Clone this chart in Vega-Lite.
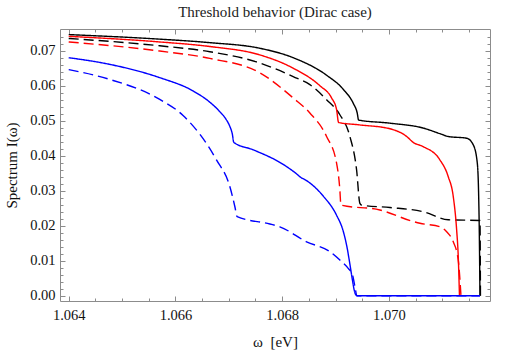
{
  "$schema": "https://vega.github.io/schema/vega-lite/v6.json",
  "width": 430,
  "height": 272,
  "autosize": "none",
  "padding": {"left": 60, "top": 29, "right": 28, "bottom": 53},
  "background": "white",
  "title": {"text": "Threshold behavior (Dirac case)", "fontSize": 15, "font": "Liberation Serif", "fontWeight": "normal", "color": "#222222", "offset": 9},
  "config": {
    "view": {"stroke": "#8c8c8c", "strokeWidth": 1},
    "axis": {"labelFont": "Liberation Serif", "titleFont": "Liberation Serif", "labelFontSize": 14.5, "titleFontSize": 15, "labelColor": "#111111", "titleColor": "#111111", "titleFontWeight": "normal", "tickColor": "#8c8c8c", "domain": false, "grid": false}
  },
  "data": {"values": [
    {"x": 1.064000, "y": 0.0746, "c": "black", "s": "solid"},
    {"x": 1.065706, "y": 0.0733, "c": "black", "s": "solid"},
    {"x": 1.066644, "y": 0.0723, "c": "black", "s": "solid"},
    {"x": 1.067581, "y": 0.0707, "c": "black", "s": "solid"},
    {"x": 1.068206, "y": 0.0680, "c": "black", "s": "solid"},
    {"x": 1.068832, "y": 0.0630, "c": "black", "s": "solid"},
    {"x": 1.069143, "y": 0.0590, "c": "black", "s": "solid"},
    {"x": 1.069331, "y": 0.0550, "c": "black", "s": "solid"},
    {"x": 1.069406, "y": 0.0522, "c": "black", "s": "solid"},
    {"x": 1.069432, "y": 0.0502, "c": "black", "s": "solid"},
    {"x": 1.070019, "y": 0.0493, "c": "black", "s": "solid"},
    {"x": 1.070643, "y": 0.0479, "c": "black", "s": "solid"},
    {"x": 1.070956, "y": 0.0463, "c": "black", "s": "solid"},
    {"x": 1.071112, "y": 0.0455, "c": "black", "s": "solid"},
    {"x": 1.071457, "y": 0.0450, "c": "black", "s": "solid"},
    {"x": 1.071581, "y": 0.0431, "c": "black", "s": "solid"},
    {"x": 1.071656, "y": 0.0379, "c": "black", "s": "solid"},
    {"x": 1.071682, "y": 0.0283, "c": "black", "s": "solid"},
    {"x": 1.071693, "y": 0.0188, "c": "black", "s": "solid"},
    {"x": 1.071706, "y": 0.0000, "c": "black", "s": "solid"},

    {"x": 1.064000, "y": 0.0735, "c": "black", "s": "dashed"},
    {"x": 1.065706, "y": 0.0714, "c": "black", "s": "dashed"},
    {"x": 1.066644, "y": 0.0697, "c": "black", "s": "dashed"},
    {"x": 1.067581, "y": 0.0665, "c": "black", "s": "dashed"},
    {"x": 1.068206, "y": 0.0626, "c": "black", "s": "dashed"},
    {"x": 1.068519, "y": 0.0603, "c": "black", "s": "dashed"},
    {"x": 1.068832, "y": 0.0560, "c": "black", "s": "dashed"},
    {"x": 1.069081, "y": 0.0517, "c": "black", "s": "dashed"},
    {"x": 1.069269, "y": 0.0455, "c": "black", "s": "dashed"},
    {"x": 1.069394, "y": 0.0360, "c": "black", "s": "dashed"},
    {"x": 1.069456, "y": 0.0264, "c": "black", "s": "dashed"},
    {"x": 1.069488, "y": 0.0259, "c": "black", "s": "dashed"},
    {"x": 1.070019, "y": 0.0252, "c": "black", "s": "dashed"},
    {"x": 1.070643, "y": 0.0240, "c": "black", "s": "dashed"},
    {"x": 1.071112, "y": 0.0217, "c": "black", "s": "dashed"},
    {"x": 1.071706, "y": 0.0215, "c": "black", "s": "dashed"},
    {"x": 1.071715, "y": 0.0000, "c": "black", "s": "dashed"},

    {"x": 1.064000, "y": 0.0741, "c": "red", "s": "solid"},
    {"x": 1.065706, "y": 0.0725, "c": "red", "s": "solid"},
    {"x": 1.066644, "y": 0.0712, "c": "red", "s": "solid"},
    {"x": 1.067581, "y": 0.0688, "c": "red", "s": "solid"},
    {"x": 1.068206, "y": 0.0650, "c": "red", "s": "solid"},
    {"x": 1.068706, "y": 0.0600, "c": "red", "s": "solid"},
    {"x": 1.068926, "y": 0.0565, "c": "red", "s": "solid"},
    {"x": 1.069019, "y": 0.0532, "c": "red", "s": "solid"},
    {"x": 1.069057, "y": 0.0495, "c": "red", "s": "solid"},
    {"x": 1.069456, "y": 0.0488, "c": "red", "s": "solid"},
    {"x": 1.070019, "y": 0.0477, "c": "red", "s": "solid"},
    {"x": 1.070332, "y": 0.0455, "c": "red", "s": "solid"},
    {"x": 1.070456, "y": 0.0438, "c": "red", "s": "solid"},
    {"x": 1.070643, "y": 0.0426, "c": "red", "s": "solid"},
    {"x": 1.070956, "y": 0.0388, "c": "red", "s": "solid"},
    {"x": 1.071112, "y": 0.0340, "c": "red", "s": "solid"},
    {"x": 1.071206, "y": 0.0283, "c": "red", "s": "solid"},
    {"x": 1.071269, "y": 0.0188, "c": "red", "s": "solid"},
    {"x": 1.071299, "y": 0.0112, "c": "red", "s": "solid"},
    {"x": 1.071322, "y": 0.0000, "c": "red", "s": "solid"},

    {"x": 1.064000, "y": 0.0725, "c": "red", "s": "dashed"},
    {"x": 1.065706, "y": 0.0699, "c": "red", "s": "dashed"},
    {"x": 1.066644, "y": 0.0678, "c": "red", "s": "dashed"},
    {"x": 1.067581, "y": 0.0637, "c": "red", "s": "dashed"},
    {"x": 1.068206, "y": 0.0565, "c": "red", "s": "dashed"},
    {"x": 1.068519, "y": 0.0522, "c": "red", "s": "dashed"},
    {"x": 1.068832, "y": 0.0455, "c": "red", "s": "dashed"},
    {"x": 1.069019, "y": 0.0379, "c": "red", "s": "dashed"},
    {"x": 1.069081, "y": 0.0302, "c": "red", "s": "dashed"},
    {"x": 1.069100, "y": 0.0259, "c": "red", "s": "dashed"},
    {"x": 1.069831, "y": 0.0245, "c": "red", "s": "dashed"},
    {"x": 1.070456, "y": 0.0212, "c": "red", "s": "dashed"},
    {"x": 1.070581, "y": 0.0207, "c": "red", "s": "dashed"},
    {"x": 1.070956, "y": 0.0197, "c": "red", "s": "dashed"},
    {"x": 1.071082, "y": 0.0183, "c": "red", "s": "dashed"},
    {"x": 1.071206, "y": 0.0154, "c": "red", "s": "dashed"},
    {"x": 1.071299, "y": 0.0102, "c": "red", "s": "dashed"},
    {"x": 1.071350, "y": 0.0000, "c": "red", "s": "dashed"},

    {"x": 1.064000, "y": 0.0680, "c": "blue", "s": "solid"},
    {"x": 1.064769, "y": 0.0661, "c": "blue", "s": "solid"},
    {"x": 1.065706, "y": 0.0623, "c": "blue", "s": "solid"},
    {"x": 1.066331, "y": 0.0585, "c": "blue", "s": "solid"},
    {"x": 1.066644, "y": 0.0553, "c": "blue", "s": "solid"},
    {"x": 1.066831, "y": 0.0526, "c": "blue", "s": "solid"},
    {"x": 1.066957, "y": 0.0502, "c": "blue", "s": "solid"},
    {"x": 1.067019, "y": 0.0484, "c": "blue", "s": "solid"},
    {"x": 1.067066, "y": 0.0462, "c": "blue", "s": "solid"},
    {"x": 1.067094, "y": 0.0438, "c": "blue", "s": "solid"},
    {"x": 1.067456, "y": 0.0417, "c": "blue", "s": "solid"},
    {"x": 1.068082, "y": 0.0369, "c": "blue", "s": "solid"},
    {"x": 1.068294, "y": 0.0345, "c": "blue", "s": "solid"},
    {"x": 1.068331, "y": 0.0340, "c": "blue", "s": "solid"},
    {"x": 1.068457, "y": 0.0329, "c": "blue", "s": "solid"},
    {"x": 1.068768, "y": 0.0285, "c": "blue", "s": "solid"},
    {"x": 1.069019, "y": 0.0230, "c": "blue", "s": "solid"},
    {"x": 1.069143, "y": 0.0185, "c": "blue", "s": "solid"},
    {"x": 1.069213, "y": 0.0140, "c": "blue", "s": "solid"},
    {"x": 1.069269, "y": 0.0090, "c": "blue", "s": "solid"},
    {"x": 1.069316, "y": 0.0045, "c": "blue", "s": "solid"},
    {"x": 1.069353, "y": 0.0014, "c": "blue", "s": "solid"},
    {"x": 1.069381, "y": 0.0002, "c": "blue", "s": "solid"},
    {"x": 1.069409, "y": 0.0000, "c": "blue", "s": "solid"},
    {"x": 1.071706, "y": 0.0000, "c": "blue", "s": "solid"},

    {"x": 1.064000, "y": 0.0646, "c": "blue", "s": "dashed"},
    {"x": 1.064769, "y": 0.0618, "c": "blue", "s": "dashed"},
    {"x": 1.065706, "y": 0.0561, "c": "blue", "s": "dashed"},
    {"x": 1.066143, "y": 0.0515, "c": "blue", "s": "dashed"},
    {"x": 1.066769, "y": 0.0388, "c": "blue", "s": "dashed"},
    {"x": 1.067019, "y": 0.0312, "c": "blue", "s": "dashed"},
    {"x": 1.067113, "y": 0.0255, "c": "blue", "s": "dashed"},
    {"x": 1.067156, "y": 0.0226, "c": "blue", "s": "dashed"},
    {"x": 1.067769, "y": 0.0205, "c": "blue", "s": "dashed"},
    {"x": 1.067956, "y": 0.0197, "c": "blue", "s": "dashed"},
    {"x": 1.068457, "y": 0.0154, "c": "blue", "s": "dashed"},
    {"x": 1.068894, "y": 0.0126, "c": "blue", "s": "dashed"},
    {"x": 1.069081, "y": 0.0102, "c": "blue", "s": "dashed"},
    {"x": 1.069237, "y": 0.0078, "c": "blue", "s": "dashed"},
    {"x": 1.069319, "y": 0.0059, "c": "blue", "s": "dashed"},
    {"x": 1.069363, "y": 0.0026, "c": "blue", "s": "dashed"},
    {"x": 1.069400, "y": 0.0000, "c": "blue", "s": "dashed"},
    {"x": 1.071706, "y": 0.0000, "c": "blue", "s": "dashed"}
  ]},
  "layer": [
    {
      "mark": {"type": "line", "strokeWidth": 1.4, "interpolate": "monotone"},
      "encoding": {
        "x": {"field": "x", "type": "quantitative", "scale": {"domain": [1.063837, 1.071894], "nice": false, "zero": false},
              "axis": {"orient": "bottom", "values": [1.064, 1.066, 1.068, 1.07], "format": ".3f", "tickSize": -5, "labelPadding": 12, "title": "ω\u00a0\u00a0[eV]", "titlePadding": 13}},
        "y": {"field": "y", "type": "quantitative", "scale": {"domain": [-0.0015, 0.0762], "nice": false, "zero": false},
              "axis": {"orient": "left", "values": [0, 0.01, 0.02, 0.03, 0.04, 0.05, 0.06, 0.07], "format": ".2f", "tickSize": -5, "labelPadding": 10, "title": "Spectrum I(ω)", "titlePadding": 10}},
        "color": {"field": "c", "type": "nominal", "scale": {"domain": ["black", "red", "blue"], "range": ["#000000", "#ff0000", "#0000ff"]}, "legend": null},
        "strokeDash": {"field": "s", "type": "nominal", "scale": {"domain": ["solid", "dashed"], "range": [[1, 0], [10, 5]]}, "legend": null}
      }
    },
    {
      "mark": {"type": "line", "opacity": 0},
      "encoding": {
        "x": {"field": "x", "type": "quantitative", "axis": {"orient": "bottom", "values": [1.064, 1.0645, 1.065, 1.0655, 1.066, 1.0665, 1.067, 1.0675, 1.068, 1.0685, 1.069, 1.0695, 1.07, 1.0705, 1.071, 1.0715], "labels": false, "tickSize": -3, "title": null}},
        "y": {"field": "y", "type": "quantitative", "axis": {"orient": "left", "values": [0, 0.002, 0.004, 0.006, 0.008, 0.01, 0.012, 0.014, 0.016, 0.018, 0.02, 0.022, 0.024, 0.026, 0.028, 0.03, 0.032, 0.034, 0.036, 0.038, 0.04, 0.042, 0.044, 0.046, 0.048, 0.05, 0.052, 0.054, 0.056, 0.058, 0.06, 0.062, 0.064, 0.066, 0.068, 0.07, 0.072, 0.074], "labels": false, "tickSize": -3, "title": null}}
      }
    },
    {
      "mark": {"type": "line", "opacity": 0},
      "encoding": {
        "x": {"field": "x", "type": "quantitative", "axis": {"orient": "top", "values": [1.064, 1.066, 1.068, 1.07], "labels": false, "tickSize": -5, "title": null}},
        "y": {"field": "y", "type": "quantitative", "axis": {"orient": "right", "values": [0, 0.01, 0.02, 0.03, 0.04, 0.05, 0.06, 0.07], "labels": false, "tickSize": -5, "title": null}}
      }
    },
    {
      "mark": {"type": "line", "opacity": 0},
      "encoding": {
        "x": {"field": "x", "type": "quantitative", "axis": {"orient": "top", "values": [1.064, 1.0645, 1.065, 1.0655, 1.066, 1.0665, 1.067, 1.0675, 1.068, 1.0685, 1.069, 1.0695, 1.07, 1.0705, 1.071, 1.0715], "labels": false, "tickSize": -3, "title": null}},
        "y": {"field": "y", "type": "quantitative", "axis": {"orient": "right", "values": [0, 0.002, 0.004, 0.006, 0.008, 0.01, 0.012, 0.014, 0.016, 0.018, 0.02, 0.022, 0.024, 0.026, 0.028, 0.03, 0.032, 0.034, 0.036, 0.038, 0.04, 0.042, 0.044, 0.046, 0.048, 0.05, 0.052, 0.054, 0.056, 0.058, 0.06, 0.062, 0.064, 0.066, 0.068, 0.07, 0.072, 0.074], "labels": false, "tickSize": -3, "title": null}}
      }
    }
  ],
  "resolve": {"axis": {"x": "independent", "y": "independent"}}
}
